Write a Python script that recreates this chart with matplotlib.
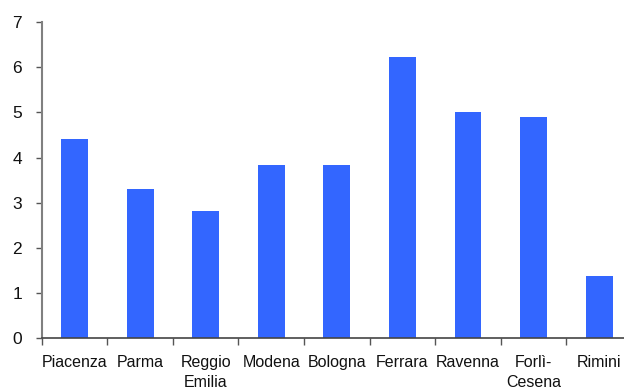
import matplotlib
matplotlib.use("Agg")
import matplotlib.pyplot as plt
import numpy as np

provinces = ["Piacenza", "Parma", "Reggio\nEmilia", "Modena", "Bologna",
             "Ferrara", "Ravenna", "Forlì-\nCesena", "Rimini"]
values = [4.41, 3.30, 2.82, 3.83, 3.83, 6.22, 5.01, 4.90, 1.38]
y_ticks = [0, 1, 2, 3, 4, 5, 6, 7]

plt.rcParams["font.family"] = ["Liberation Sans", "DejaVu Sans"]

fig = plt.figure(figsize=(6.24, 3.92), dpi=100)
ax = fig.add_axes([0.0668, 0.137, 0.946, 0.807])

x = np.arange(len(provinces))
ax.bar(x, values, width=0.41, color="#3366FF", zorder=2)

ax.set_xlim(-0.5, len(provinces) - 0.5)
ax.set_ylim(0, 7)
ax.set_yticks(y_ticks)
ax.set_yticklabels([str(v) for v in y_ticks], fontsize=12.5, color="#111111")

# tick marks sit between categories, labels sit under each bar
ax.set_xticks(np.arange(len(provinces) + 1) - 0.5)
ax.set_xticklabels([])
ax.set_xticks(x, minor=True)
ax.set_xticklabels(provinces, minor=True, fontsize=11.5, color="#111111",
                   linespacing=1.4, va="top")
ax.tick_params(axis="x", which="major", direction="out", length=5,
               width=1, color="#555555")
ax.tick_params(axis="x", which="minor", length=0, pad=12)
ax.tick_params(axis="y", direction="out", length=4, width=1,
               color="#555555", pad=10)

for side in ("top", "right"):
    ax.spines[side].set_visible(False)
ax.spines["left"].set_color("#808080")
ax.spines["left"].set_linewidth(1.5)
ax.spines["bottom"].set_color("#444444")
ax.spines["bottom"].set_linewidth(1.2)

fig.savefig("out.png", dpi=100)
